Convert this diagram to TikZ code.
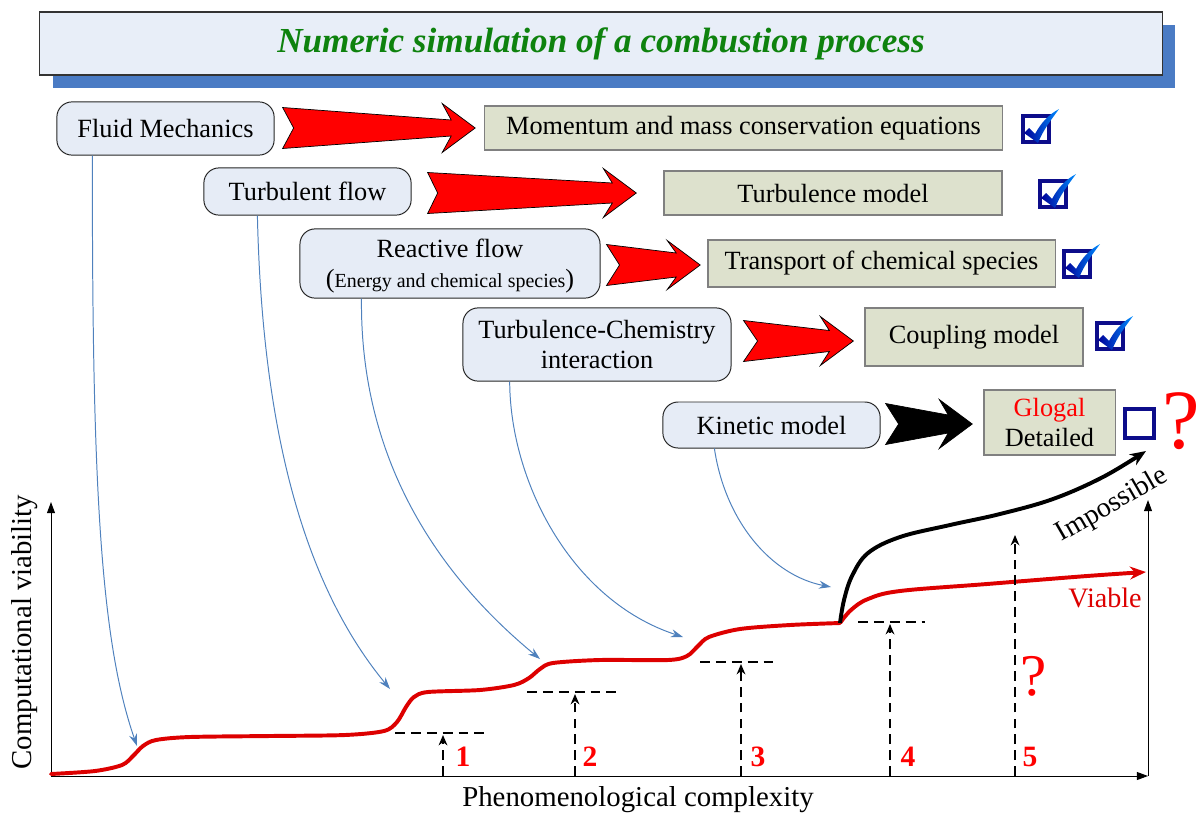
\documentclass[tikz,border=0pt]{standalone}
\usepackage{fontspec}
\setmainfont{Liberation Serif}
\usepackage{tikz}
\usetikzlibrary{shapes,arrows.meta,calc}

\definecolor{titlebg}{HTML}{E8EEF8}
\definecolor{shadowblue}{HTML}{4A7BC4}
\definecolor{titlegreen}{HTML}{0E820E}
\definecolor{boxblue}{HTML}{E6ECF6}
\definecolor{boxgreen}{HTML}{DDE1CD}
\definecolor{linkblue}{HTML}{4F81BD}
\definecolor{checknavy}{HTML}{0D0D8A}
\definecolor{curvered}{HTML}{DD0000}

% block arrow with notched tail: colour, tail, tip, shaft half height, notch
\newcommand{\bigarrow}[5]{%
  \filldraw[fill=#1, draw=black, line width=0.5pt]
    ($(#2 |- #3)+(0,-20.5)$) -- ($(#2 |- #3)+(#5,0)$) -- ($(#2 |- #3)+(0,20.5)$)
    -- ($(#3)+(-24,#4)$) -- ($(#3)+(-33,24.5)$) -- (#3)
    -- ($(#3)+(-33,-24.5)$) -- ($(#3)+(-24,-#4)$) -- cycle;}

% ticked box
\newcommand{\donebox}[1]{%
  \draw[checknavy, line width=2.6pt] ($(#1)+(-13,-13)$) rectangle ($(#1)+(13,13)$);
  \shade[left color=blue!60!black, right color=blue!45!cyan]
    ($(#1)+(-12,4)$) -- ($(#1)+(-7,-1)$) -- ($(#1)+(-1,5)$)
    .. controls ($(#1)+(5,-6)$) and ($(#1)+(12,-14)$) .. ($(#1)+(23,-20)$)
    .. controls ($(#1)+(15,-9)$) and ($(#1)+(7,1)$) .. ($(#1)+(2,14)$) -- cycle;}

\begin{document}
\begin{tikzpicture}[x=0.025cm, y=-0.025cm,
    topic/.style={rectangle, rounded corners=0.38cm, draw=black!85,
                  fill=boxblue, line width=0.7pt},
    model/.style={rectangle, draw=black!50, fill=boxgreen, line width=0.9pt},
    txt/.style={font=\fontsize{18.7}{21}\selectfont, align=center},
    stepline/.style={dash pattern=on 7pt off 4.3pt, line width=1pt},
    link/.style={linkblue, line width=0.7pt, -{Stealth[length=3mm,width=2mm]}},
    num/.style={text=red, font=\fontsize{21}{21}\selectfont\bfseries}]

  \useasboundingbox (0,0) rectangle (1200,816);

  % title
  \node[rectangle,
        fill = shadowblue,
        minimum width = 28.05cm,
        minimum height = 1.58cm] (shadow) at (614,56.5) {};
  \node[rectangle,
        draw = black!80,
        line width = 0.9pt,
        fill = titlebg,
        minimum width = 28.05cm,
        minimum height = 1.58cm] (title) at (601,43.5) {};
  \node[text=titlegreen, font=\fontsize{25}{25}\selectfont\bfseries\itshape]
    at (title.center) {Numeric simulation of a combustion process};

  % physics
  \node[topic, minimum width = 5.43cm, minimum height = 1.33cm] (fm) at (165.5,128.5) {};
  \node[txt] at (fm.center) {Fluid Mechanics};

  \node[topic, minimum width = 5.18cm, minimum height = 1.18cm] (tf) at (307.5,191.5) {};
  \node[txt] at (tf.center) {Turbulent flow};

  \node[topic, minimum width = 7.5cm, minimum height = 1.73cm] (rf) at (450,263.5) {};
  \node[txt] at (450,248) {Reactive flow};
  \node[txt] at (450,281) {(\fontsize{14.2}{14}\selectfont Energy and chemical species\fontsize{18.7}{21}\selectfont)};

  \node[topic, minimum width = 6.7cm, minimum height = 1.83cm] (tc) at (597,344.5) {};
  \node[txt] at (tc.center) {Turbulence-Chemistry\\interaction};

  \node[topic, minimum width = 5.43cm, minimum height = 1.15cm] (km) at (771.5,425) {};
  \node[txt] at (km.center) {Kinetic model};

  % models
  \node[model, minimum width = 12.93cm, minimum height = 1.1cm] (mm) at (743.5,128) {};
  \node[txt] at (mm.center) {Momentum and mass conservation equations};

  \node[model, minimum width = 8.45cm, minimum height = 1.1cm] (tm) at (833,193) {};
  \node[txt] at (tm.center) {Turbulence model};

  \node[model, minimum width = 8.68cm, minimum height = 1.18cm] (tr) at (881.5,263.5) {};
  \node[txt] at (tr.center) {Transport of chemical species};

  \node[model, minimum width = 5.45cm, minimum height = 1.45cm] (cm) at (974,337) {};
  \node[txt] at (cm.center) {Coupling model};

  \node[model, minimum width = 3.28cm, minimum height = 1.63cm] (kd) at (1049.5,422.5) {};
  \node[txt] at (kd.center) {\textcolor{red}{Glogal}\\Detailed};

  % block arrows
  \coordinate (a1) at ($(fm.east)+(8,0)$);
  \coordinate (b1) at ($(mm.west)+(-9,0)$);
  \coordinate (a2) at ($(tf.east)+(16,0)$);
  \coordinate (b2) at ($(tm.west)+(-27,0)$);
  \coordinate (a3) at ($(rf.east)+(6,0)$);
  \coordinate (b3) at ($(tr.west)+(-7,1.5)$);
  \coordinate (a4) at ($(tc.east)+(12,0)$);
  \coordinate (b4) at ($(cm.west)+(-11,4)$);
  \coordinate (a5) at ($(km.east)+(5,0)$);
  \coordinate (b5) at ($(kd.west)+(-11,1.5)$);
  \bigarrow{red}{a1}{b1}{8}{11}
  \bigarrow{red}{a2}{b2}{10}{10}
  \bigarrow{red}{a3}{b3}{12}{13}
  \bigarrow{red}{a4}{b4}{10.5}{14}
  \bigarrow{black}{a5}{b5}{9}{13}

  % check boxes
  \donebox{1036,129}
  \donebox{1053,194}
  \donebox{1077,264}
  \donebox{1110,336}
  \draw[checknavy, line width=2.6pt] (1125,409) rectangle (1154,438);
  \node[text=red, font=\fontsize{60}{60}\selectfont] (q1) at (1181,421) {?};

  % axes
  \coordinate (o) at (51,776);
  \coordinate (ytop) at (51,502);
  \coordinate (xend) at (1148,776);
  \coordinate (rtop) at (1148,500);
  \draw[line width=0.7pt, -{Triangle[length=2.8mm,width=2mm]}] (o) -- (ytop);
  \draw[line width=0.7pt, -{Triangle[length=2.8mm,width=2mm]}] (o) -- (xend);
  \draw[line width=0.7pt, -{Triangle[length=2.8mm,width=2mm]}] (xend) -- (rtop);
  \node[font=\fontsize{20.5}{20.5}\selectfont, rotate=90] (ylab) at (25,632) {Computational viability};
  \node[font=\fontsize{20.5}{20.5}\selectfont] (xlab) at (638,800) {Phenomenological complexity};

  % steps of the curve
  \coordinate (c1) at (137,746);
  \coordinate (c2) at (390,689);
  \coordinate (c3) at (540,659);
  \coordinate (c4) at (683,637);
  \coordinate (c5) at (831,587);

  \draw[curvered, line width=2.8pt, line cap=round] plot[smooth, tension=0.5] coordinates {
    (51,774) (95,771) (122,765) (133,756) (143,746) (156,740) (190,737) (270,736)
    (345,735) (384,731) (397,722) (406,707) (414,697) (428,692) (480,690) (514,685)
    (529,678) (540,669) (553,663) (600,660) (668,660) (687,656) (698,646) (709,637)
    (740,629) (790,625) (840,623)};
  \draw[curvered, line width=2.8pt, -{Stealth[length=4mm,width=3.2mm]}] plot[smooth, tension=0.6] coordinates {
    (840,623) (851,610) (868,599) (900,591) (987,584) (1087,576) (1146,572)};
  \draw[black, line width=2.8pt, -{Stealth[length=4mm,width=3.2mm]}] plot[smooth, tension=0.6] coordinates {
    (840,623) (844,600) (852,576) (868,553) (900,537) (950,525) (1000,514)
    (1053,499) (1103,477) (1146,451)};
  \node[text=curvered, font=\fontsize{20}{20}\selectfont] (viable) at (1105,598) {Viable};
  \node[font=\fontsize{20}{20}\selectfont, rotate=30] (imp) at (1112,505) {Impossible};

  % links
  \draw[link] ([xshift=0.9cm]fm.south west) .. controls (92,480) and (100,640) .. (c1);
  \draw[link] ([xshift=1.35cm]tf.south west) .. controls (262,420) and (300,580) .. (c2);
  \draw[link] ([xshift=1.55cm]rf.south west) .. controls (360,440) and (420,560) .. (c3);
  \draw[link] ([xshift=1.18cm]tc.south west) .. controls (510,480) and (570,600) .. (c4);
  \draw[link] ([xshift=1.3cm]km.south west) .. controls (725,520) and (770,575) .. (c5);

  % levels
  \coordinate (l1) at (443,735);
  \coordinate (l2) at (575,694);
  \coordinate (l3) at (741,664);
  \coordinate (l4) at (890,624);
  \coordinate (l5) at (1015,535);
  \draw[stepline] (395,733) -- (488,733);
  \draw[stepline] (527,692) -- (618,692);
  \draw[stepline] (700,662) -- (775,662);
  \draw[stepline] (858,622) -- (925,622);
  \draw[stepline, -{Stealth[length=2.6mm,width=2.2mm]}] (l1 |- o) -- (l1);
  \draw[stepline, -{Stealth[length=2.6mm,width=2.2mm]}] (l2 |- o) -- (l2);
  \draw[stepline, -{Stealth[length=2.6mm,width=2.2mm]}] (l3 |- o) -- (l3);
  \draw[stepline, -{Stealth[length=2.6mm,width=2.2mm]}] (l4 |- o) -- (l4);
  \draw[stepline, -{Stealth[length=2.6mm,width=2.2mm]}] (l5 |- o) -- (l5);
  \node[num] (n1) at (463,757) {1};
  \node[num] (n2) at (590,757) {2};
  \node[num] (n3) at (758,757) {3};
  \node[num] (n4) at (908,757) {4};
  \node[num] (n5) at (1030,757) {5};
  \node[text=red, font=\fontsize{42}{42}\selectfont] (q2) at (1034,676) {?};

\end{tikzpicture}
\end{document}
